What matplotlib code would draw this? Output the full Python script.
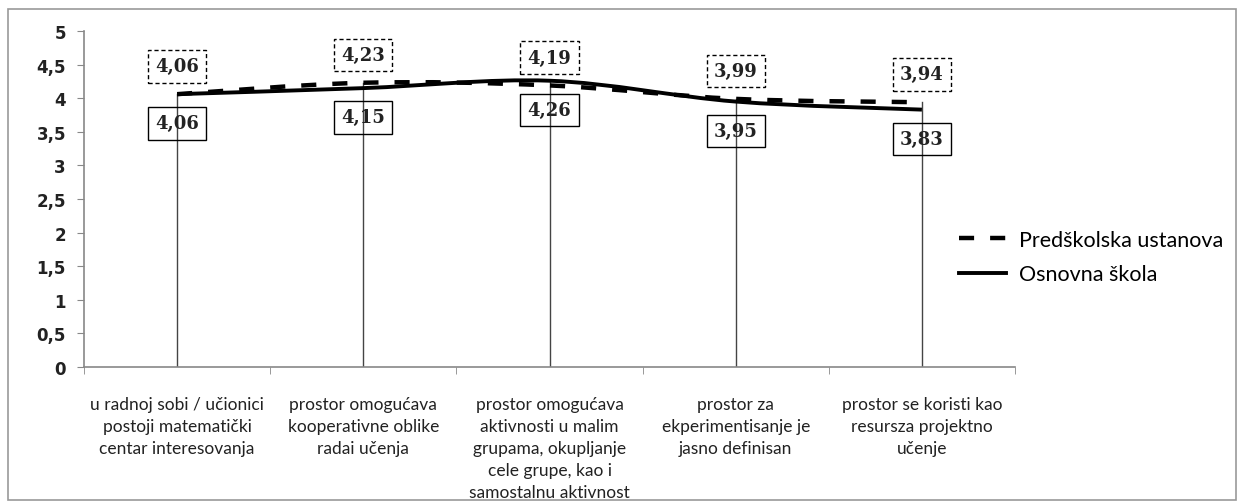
import matplotlib
matplotlib.use("Agg")
import matplotlib.pyplot as plt
from matplotlib.path import Path
from matplotlib.patches import PathPatch, Rectangle
from matplotlib.lines import Line2D
import numpy as np

categories = [
    "u radnoj sobi / učionici\npostoji matematički\ncentar interesovanja",
    "prostor omogućava\nkooperativne oblike\nradai učenja",
    "prostor omogućava\naktivnosti u malim\ngrupama, okupljanje\ncele grupe, kao i\nsamostalnu aktivnost",
    "prostor za\nekperimentisanje je\njasno definisan",
    "prostor se koristi kao\nresursza projektno\nučenje",
]
predskolska = [4.06, 4.23, 4.19, 3.99, 3.94]
osnovna = [4.06, 4.15, 4.26, 3.95, 3.83]
series_names = ["Predškolska ustanova", "Osnovna škola"]
yticks = [0, 0.5, 1, 1.5, 2, 2.5, 3, 3.5, 4, 4.5, 5]
ytick_labels = ["0", "0,5", "1", "1,5", "2", "2,5", "3", "3,5", "4", "4,5", "5"]

W, H = 1241, 502
fig = plt.figure(figsize=(W / 100, H / 100), dpi=100)
ax = fig.add_axes([84 / W, 1 - 368 / H, (1015 - 84) / W, (368 - 32) / H])

x = np.arange(len(categories))


def smooth_path(xs, ys):
    xs = np.asarray(xs, float)
    ys = np.asarray(ys, float)
    n = len(xs)
    verts = [(xs[0], ys[0])]
    codes = [Path.MOVETO]
    for i in range(n - 1):
        p0 = (xs[max(i - 1, 0)], ys[max(i - 1, 0)])
        p1 = (xs[i], ys[i])
        p2 = (xs[i + 1], ys[i + 1])
        p3 = (xs[min(i + 2, n - 1)], ys[min(i + 2, n - 1)])
        c1 = (p1[0] + (p2[0] - p0[0]) / 6, p1[1] + (p2[1] - p0[1]) / 6)
        c2 = (p2[0] - (p3[0] - p1[0]) / 6, p2[1] - (p3[1] - p1[1]) / 6)
        verts += [c1, c2, p2]
        codes += [Path.CURVE4] * 3
    return Path(verts, codes)


# drop lines
for xi, a, b in zip(x, predskolska, osnovna):
    ax.plot([xi, xi], [0, max(a, b)], color="#444444", lw=1.0, zorder=2)

p1 = PathPatch(smooth_path(x, predskolska), fill=False, edgecolor="black", lw=3.2,
               linestyle=(0, (3.4, 3.6)), capstyle="butt", zorder=3)
p2 = PathPatch(smooth_path(x, osnovna), fill=False, edgecolor="black", lw=2.8,
               zorder=4)
ax.add_patch(p1)
ax.add_patch(p2)

lab_font = dict(family="DejaVu Serif", size=13, weight="bold", color="#222222")
for xi, v in zip(x, predskolska):
    ax.annotate(f"{v:.2f}".replace(".", ","), (xi, v), xytext=(0, 20),
                textcoords="offset points", ha="center", va="center",
                bbox=dict(boxstyle="square,pad=0.4", fc="white", ec="black",
                          lw=1.0, ls=(0, (3, 2))), zorder=6, **lab_font)
for xi, v in zip(x, osnovna):
    ax.annotate(f"{v:.2f}".replace(".", ","), (xi, v), xytext=(0, -21),
                textcoords="offset points", ha="center", va="center",
                bbox=dict(boxstyle="square,pad=0.4", fc="none", ec="black",
                          lw=1.0), zorder=6, **lab_font)

ax.set_xlim(-0.5, len(categories) - 0.5)
ax.set_ylim(0, 5)
ax.set_yticks(yticks)
ax.set_yticklabels(ytick_labels, fontsize=12, fontweight="bold",
                   family="DejaVu Sans", color="#222222")
ax.set_xticks(x)
ax.set_xticklabels(categories, fontsize=12.5, family="Lato", linespacing=1.45,
                   color="#222222")
ax.set_xticks(np.arange(len(categories) + 1) - 0.5, minor=True)
ax.tick_params(axis="x", which="major", length=0, pad=21)
ax.tick_params(axis="x", which="minor", length=5, color="#888888", direction="out")
ax.tick_params(axis="y", length=5, color="#888888", direction="out", pad=8)
for s in ["top", "right"]:
    ax.spines[s].set_visible(False)
for s in ["left", "bottom"]:
    ax.spines[s].set_color("#888888")
    ax.spines[s].set_linewidth(1.2)

handles = [Line2D([], [], color="black", lw=3.2, linestyle=(0, (3.4, 3.6))),
           Line2D([], [], color="black", lw=2.8)]
fig.legend(handles, series_names, loc="center left",
           bbox_to_anchor=(940 / W, 1 - 258 / H), frameon=False,
           prop=dict(family="Lato", size=15.5), handlelength=2.15,
           handletextpad=0.6, labelspacing=0.68)

fig.patches.append(Rectangle((8 / W, 1 / H), (1236 - 8) / W, (492 - 1) / H,
                             transform=fig.transFigure, fill=False,
                             ec="#999999", lw=1.2))

fig.savefig("out.png", dpi=100)
